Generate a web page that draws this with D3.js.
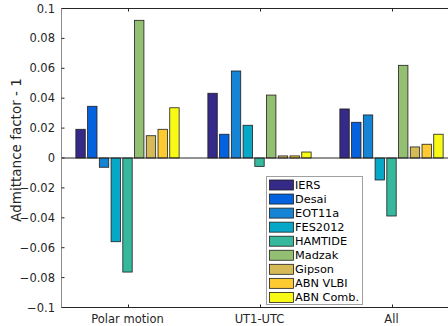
<!DOCTYPE html>
<html>
<head>
<meta charset="utf-8">
<script src="https://cdn.jsdelivr.net/npm/d3@7"></script>
<style>
  body { margin: 0; background: #fff; }
  svg { display: block; font-family: "DejaVu Sans", sans-serif; }
</style>
</head>
<body>
<svg id="chart" width="448" height="326"></svg>
<script>
// groups on the x axis
var groups = ["Polar motion", "UT1-UTC", "All"];
// one series per model
var series = ["IERS", "Desai", "EOT11a", "FES2012", "HAMTIDE", "Madzak", "Gipson", "ABN VLBI", "ABN Comb."];
var colors = ["#352a87", "#0462de", "#1584d4", "#07a8c7", "#36b89d", "#93bf72", "#d5ba57", "#fdca32", "#f8f915"];

var polarValues = [0.0192, 0.0346, -0.0062, -0.056, -0.0763, 0.0921, 0.0149, 0.0192, 0.0336];
var ut1Values   = [0.0433, 0.0159, 0.0582, 0.0219, -0.0056, 0.0421, 0.0014, 0.0014, 0.004];
var allValues   = [0.0328, 0.0239, 0.0288, -0.0147, -0.0388, 0.062, 0.0074, 0.0092, 0.0159];
var yTicks = [-0.1, -0.08, -0.06, -0.04, -0.02, 0, 0.02, 0.04, 0.06, 0.08, 0.1];

var values = [polarValues, ut1Values, allValues];

var svg = d3.select("#chart");
var axisColor = "#262626";

var x = d3.scaleLinear().domain([0.5, 3.5]).range([61.5, 457.5]);
var y = d3.scaleLinear().domain([-0.1, 0.1]).range([307.5, 8.5]);

// matlab style grouped bar geometry
var nSeries = series.length;
var groupWidth = 0.8;
var slot = groupWidth / nSeries;
var barW = slot * 0.8;

var bars = [];
values.forEach(function(row, gi) {
    row.forEach(function(v, si) {
        bars.push({ g: gi, s: si, v: v });
    });
});

svg.selectAll(".bar")
    .data(bars)
    .join("rect")
    .attr("class", "bar")
    .attr("x", function(d) {
        var c = (d.g + 1) - groupWidth / 2 + slot * (d.s + 0.5);
        return x(c - barW / 2);
    })
    .attr("width", x(barW) - x(0))
    .attr("y", function(d) { return y(Math.max(0, d.v)); })
    .attr("height", function(d) { return Math.abs(y(d.v) - y(0)); })
    .attr("fill", function(d) { return colors[d.s]; })
    .attr("stroke", "#1e1e1e")
    .attr("stroke-width", 0.8);

// baseline
svg.append("line")
    .attr("x1", x(0.5)).attr("x2", x(3.5))
    .attr("y1", y(0)).attr("y2", y(0))
    .attr("stroke", axisColor).attr("stroke-width", 1);

// axes box (right side falls outside the picture)
svg.append("line")
    .attr("x1", x(0.5)).attr("x2", x(3.5))
    .attr("y1", y(0.1)).attr("y2", y(0.1))
    .attr("stroke", axisColor);
svg.append("line")
    .attr("x1", x(0.5)).attr("x2", x(3.5))
    .attr("y1", y(-0.1)).attr("y2", y(-0.1))
    .attr("stroke", axisColor);
svg.append("line")
    .attr("x1", x(0.5)).attr("x2", x(0.5))
    .attr("y1", y(0.1)).attr("y2", y(-0.1))
    .attr("stroke", "#8c8c8c");

// y ticks and labels
svg.selectAll(".ytick")
    .data(yTicks)
    .join("line")
    .attr("class", "ytick")
    .attr("x1", x(0.5)).attr("x2", x(0.5) + 3)
    .attr("y1", function(d) { return y(d); })
    .attr("y2", function(d) { return y(d); })
    .attr("stroke", axisColor);

svg.selectAll(".ylabel")
    .data(yTicks)
    .join("text")
    .attr("class", "ylabel")
    .attr("x", x(0.5) - 6.5)
    .attr("y", function(d) { return y(d) + 4; })
    .attr("text-anchor", "end")
    .attr("font-size", 11.5)
    .attr("fill", axisColor)
    .text(function(d) { return d3.format("")(+d.toFixed(2)); });

// x ticks and labels
svg.selectAll(".xtick")
    .data(groups)
    .join("g")
    .attr("class", "xtick")
    .each(function(d, i) {
        var g = d3.select(this);
        var cx = Math.round(x(i + 1)) + 0.5;
        g.append("line").attr("x1", cx).attr("x2", cx)
            .attr("y1", y(-0.1)).attr("y2", y(-0.1) - 3).attr("stroke", axisColor);
        g.append("line").attr("x1", cx).attr("x2", cx)
            .attr("y1", y(0.1)).attr("y2", y(0.1) + 3).attr("stroke", axisColor);
        g.append("text")
            .attr("x", x(i + 1))
            .attr("y", 323)
            .attr("text-anchor", "middle")
            .attr("font-size", 11.5)
            .attr("fill", axisColor)
            .text(d);
    });

// y axis title
svg.append("text")
    .attr("transform", "translate(21,150) rotate(-90)")
    .attr("text-anchor", "middle")
    .attr("font-size", 13.5)
    .attr("fill", axisColor)
    .text("Admittance factor - 1");

// legend
var legend = svg.append("g").attr("class", "legend").attr("transform", "translate(266.5,176.5)");
legend.append("rect")
    .attr("width", 96).attr("height", 128)
    .attr("fill", "#fff").attr("stroke", "#a0a0a0");

var items = legend.selectAll(".legend-item")
    .data(series)
    .join("g")
    .attr("class", "legend-item")
    .attr("transform", function(d, i) { return "translate(0," + (i * 14.05) + ")"; });

items.append("rect")
    .attr("x", 3).attr("y", 3.5)
    .attr("width", 24).attr("height", 10)
    .attr("fill", function(d, i) { return colors[i]; })
    .attr("stroke", "#1e1e1e").attr("stroke-width", 0.8);

items.append("text")
    .attr("x", 28.5).attr("y", 12.5)
    .attr("font-size", 11.3)
    .attr("fill", "#000")
    .text(function(d) { return d; });
</script>
</body>
</html>
